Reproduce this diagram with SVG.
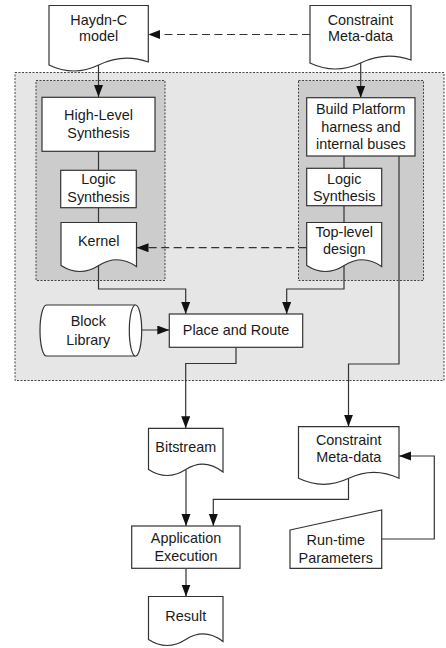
<svg xmlns="http://www.w3.org/2000/svg" width="446" height="648" viewBox="0 0 446 648">
<style>
.shape{fill:#fff;stroke:#333;stroke-width:1.2}
.grp1{fill:#e6e6e6;stroke:#444;stroke-width:1;stroke-dasharray:2,1.5}
.grp2{fill:#cccccc;stroke:#444;stroke-width:1;stroke-dasharray:2,1.5}
.con{fill:none;stroke:#333;stroke-width:1.2}
.dash{stroke-dasharray:8,4.5}
text{font-family:"Liberation Sans",Arial,sans-serif;font-size:14.4px;fill:#1a1a1a;text-anchor:middle}
</style>
<defs>
<marker id="ah" markerUnits="userSpaceOnUse" markerWidth="13" markerHeight="10" refX="12" refY="4.5" orient="auto">
<path d="M0,0 L12,4.5 L0,9 Z" fill="#111"/>
</marker>
</defs>
<g id="containers">
<rect class="grp1" x="15" y="72.5" width="429" height="308"/>
<rect class="grp2" x="36" y="80.5" width="129" height="200"/>
<rect class="grp2" x="298.5" y="80.5" width="125" height="200"/>
</g>
<g id="connectors">
<path class="con" d="M98.5,60 V97" marker-end="url(#ah)"/>
<path class="con" d="M360.7,60 V97.7" marker-end="url(#ah)"/>
<path class="con dash" d="M310,34.5 H148.3" marker-end="url(#ah)"/>
<path class="con" d="M98.5,151.3 V170.3"/>
<path class="con" d="M98.5,207.7 V222.7"/>
<path class="con" d="M344,156 V168.3"/>
<path class="con" d="M344,205.7 V222.7"/>
<path class="con dash" d="M306.7,247.7 H136.5" marker-end="url(#ah)"/>
<path class="con" d="M98.5,265 V289 H185.7 V314" marker-end="url(#ah)"/>
<path class="con" d="M344,265 V289 H286.7 V314" marker-end="url(#ah)"/>
<path class="con" d="M136,330 H169.3" marker-end="url(#ah)"/>
<path class="con" d="M236,347.3 V363.5 H185.7 V428.3" marker-end="url(#ah)"/>
<path class="con" d="M399,156 V364 H348.5 V426.7" marker-end="url(#ah)"/>
<path class="con" d="M186,470 V526" marker-end="url(#ah)"/>
<path class="con" d="M348.5,478 V499.3 H213.3 V526" marker-end="url(#ah)"/>
<path class="con" d="M381.7,539 H434.3 V456 H399" marker-end="url(#ah)"/>
<path class="con" d="M186,568.3 V596.5" marker-end="url(#ah)"/>
</g>
<g id="haydn">
<path class="shape" d="M49,5.5 V65 Q73.8,77 98.7,65 T148.3,62 V5.5 Z"/>
<text x="98.7" y="24.5">Haydn-C</text>
<text x="98.7" y="41">model</text>
</g>
<g id="constraint-top">
<path class="shape" d="M310,5.5 V63 Q335.25,75 360.5,63 T411,60 V5.5 Z"/>
<text x="360.5" y="24.5">Constraint</text>
<text x="360.5" y="41">Meta-data</text>
</g>
<g id="hls">
<rect class="shape" x="42" y="97.3" width="113" height="54"/>
<text x="98.5" y="120">High-Level</text>
<text x="98.5" y="137.7">Synthesis</text>
</g>
<g id="logic-left">
<rect class="shape" x="60.7" y="170.3" width="75.5" height="37.4"/>
<text x="98.5" y="184.3">Logic</text>
<text x="98.5" y="202.3">Synthesis</text>
</g>
<g id="kernel">
<path class="shape" d="M61,222.5 V265.5 Q79.9,277.5 98.75,265.5 T136.5,266.5 V222.5 Z"/>
<text x="98.75" y="245.8">Kernel</text>
</g>
<g id="build">
<rect class="shape" x="306.7" y="97.7" width="108.3" height="58.3"/>
<text x="360.8" y="114.3">Build Platform</text>
<text x="360.8" y="131.7">harness and</text>
<text x="360.8" y="149">internal buses</text>
</g>
<g id="logic-right">
<rect class="shape" x="306.7" y="168.3" width="75" height="37.4"/>
<text x="344.2" y="183.5">Logic</text>
<text x="344.2" y="200.8">Synthesis</text>
</g>
<g id="toplevel">
<path class="shape" d="M306.7,222.5 V265.5 Q325.45,277.5 344.2,265.5 T381.7,266.5 V222.5 Z"/>
<text x="344.2" y="236.7">Top-level</text>
<text x="344.2" y="254.3">design</text>
</g>
<g id="blocklib">
<path class="shape" d="M46.5,305 H135.5 A6.2,25.5 0 0 1 135.5,356 H46.5 A6.5,25.5 0 0 1 46.5,305 Z"/>
<path class="shape" d="M135.5,305 A6.2,25.5 0 0 0 135.5,356"/>
<text x="88.3" y="326">Block</text>
<text x="88.3" y="345">Library</text>
</g>
<g id="pnr">
<rect class="shape" x="169.3" y="314" width="133.4" height="33.3"/>
<text x="236" y="335">Place and Route</text>
</g>
<g id="bitstream">
<path class="shape" d="M148.5,428.3 V469.5 Q167.1,481.5 185.75,469.5 T223,472 V428.3 Z"/>
<text x="185.75" y="452.3">Bitstream</text>
</g>
<g id="constraint-bottom">
<path class="shape" d="M298.5,426.7 V478.3 Q323.6,490.3 348.75,478.3 T399,478.3 V426.7 Z"/>
<text x="348.75" y="445">Constraint</text>
<text x="348.75" y="462.3">Meta-data</text>
</g>
<g id="app">
<rect class="shape" x="131.7" y="526" width="108.3" height="42.3"/>
<text x="186" y="543.3">Application</text>
<text x="186" y="561">Execution</text>
</g>
<g id="runtime">
<path class="shape" d="M290,530 L381.7,510 V568.3 H290 Z"/>
<text x="335.8" y="545">Run-time</text>
<text x="335.8" y="562.7">Parameters</text>
</g>
<g id="result">
<path class="shape" d="M148.5,596.5 V639.5 Q167.1,651.5 185.75,639.5 T223,641.5 V596.5 Z"/>
<text x="185.75" y="621">Result</text>
</g>
</svg>
